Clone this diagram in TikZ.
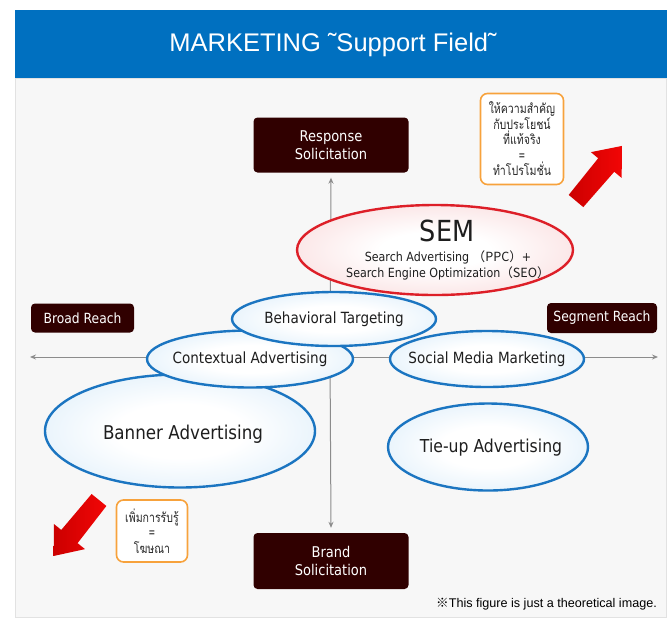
\documentclass[tikz,border=0pt]{standalone}
\usepackage{fontspec}
\setmainfont{DejaVu Sans}[FakeStretch=0.88]
\newfontfamily\headfont{Liberation Sans}
\newfontfamily\thaifont[Script=Thai,FakeStretch=0.8]{Loma}
\newfontfamily\cjkfont{Noto Sans CJK JP}
\usetikzlibrary{shapes.geometric,arrows.meta}

\definecolor{headblue}{HTML}{0070C0}
\definecolor{panelgray}{HTML}{F7F7F7}
\definecolor{panelline}{HTML}{E2E2E2}
\definecolor{boxred}{HTML}{300000}
\definecolor{axisgray}{HTML}{8C8C8C}
\definecolor{edgeblue}{HTML}{1B75C1}
\definecolor{glowblue}{HTML}{C2E0F6}
\definecolor{edgered}{HTML}{DD1F28}
\definecolor{glowpink}{HTML}{F5C0C2}
\definecolor{calloutorange}{HTML}{F7A23C}
\definecolor{arrowred}{HTML}{F20606}
\definecolor{arrowdark}{HTML}{CC0000}
\definecolor{inktext}{HTML}{1E1E1E}

\pgfdeclareradialshading{blueglow}{\pgfpoint{0bp}{0bp}}{color(0bp)=(white); color(12bp)=(white); color(50bp)=(glowblue); color(100bp)=(glowblue)}
\pgfdeclareradialshading{pinkglow}{\pgfpoint{0bp}{0bp}}{color(0bp)=(white); color(10bp)=(white); color(50bp)=(glowpink); color(100bp)=(glowpink)}

\tikzset{
  x=1pt, y=-1pt,
  darkbox/.style={fill=boxred, rounded corners=4pt, text=white, align=center,
    inner sep=0pt, font=\fontsize{14.8}{18}\selectfont},
  bluebubble/.style={ellipse, draw=edgeblue, line width=2.4pt, inner sep=0pt, shading=blueglow},
  redbubble/.style={ellipse, draw=edgered, line width=2.4pt, inner sep=0pt, shading=pinkglow},
  bubbletext/.style={font=\fontsize{15.4}{18}\selectfont, text=inktext},
  callout/.style={draw=calloutorange, line width=1.6pt, fill=white, rounded corners=7pt,
    align=center, inner sep=0pt, font=\thaifont\fontsize{13.2}{15.5}\selectfont, text=black!85},
  axis/.style={draw=axisgray, line width=1pt, -{Stealth[length=6pt,width=5pt]}},
  redarrow/.pic={
    \path[left color=arrowdark, right color=arrowred]
      (0,-9.5) -- (47,-10.5) -- (47,-20) -- (72,0) -- (47,20) -- (47,10.5) -- (0,9.5) -- cycle;
  },
}

\begin{document}
\begin{tikzpicture}
  \useasboundingbox (0,0) rectangle (668,619);
  \fill[white] (0,0) rectangle (668,619);

  % panel and header band
  \filldraw[fill=panelgray, draw=panelline, line width=1pt] (15.5,78) rectangle (666.5,617);
  \fill[headblue] (15,10) rectangle (667,78);
  \node (title) at (333,45) [text=white, font=\headfont\fontsize{25.5}{28}\selectfont]
    {MARKETING ˜Support Field˜};

  % end boxes of the two axes
  \node (resp)  at (331,145) [darkbox, minimum width=155pt, minimum height=55pt] {Response\\Solicitation};
  \node (brand) at (331,561) [darkbox, minimum width=155pt, minimum height=56pt] {Brand\\Solicitation};
  \node (broad) at (82.5,318) [darkbox, minimum width=103pt, minimum height=29pt,
    font=\fontsize{14}{16}\selectfont] {Broad Reach};
  \node (segm)  at (602,318) [darkbox, minimum width=110pt, minimum height=30pt,
    font=\fontsize{14}{16}\selectfont] {Segment Reach};

  % axes
  \coordinate (cen) at (330,357);
  \coordinate (west) at (30,357);
  \coordinate (east) at (658,357);
  \draw[axis] (cen) -- ([yshift=-5pt]resp.south);
  \draw[axis] (cen) -- ([yshift=5pt]brand.north);
  \draw[axis] (cen) -- (west);
  \draw[axis] (cen) -- (east);

  % bubbles
  \node (sem) at (435,250) [redbubble, minimum width=276pt, minimum height=90pt] {};
  \node at (447,231) [text=inktext] {\fontsize{29}{32}\selectfont SEM};
  \node at (448,265) [align=center, font=\fontsize{12.6}{16}\selectfont, text=inktext]
    {Search Advertising {\cjkfont （PPC）}+\\Search Engine Optimization{\cjkfont （SEO）}};

  \node (banner) at (180,431) [bluebubble, minimum width=270pt, minimum height=113pt] {};
  \node at (183,434) [bubbletext, font=\fontsize{19}{22}\selectfont] {Banner Advertising};

  \node (ctx) at (250,359) [bluebubble, minimum width=206pt, minimum height=57pt] {};
  \node at (ctx) [bubbletext] {Contextual Advertising};

  \node (behav) at (334,319) [bluebubble, minimum width=204pt, minimum height=54pt] {};
  \node at (behav) [bubbletext] {Behavioral Targeting};

  \node (social) at (487,359) [bluebubble, minimum width=194pt, minimum height=56pt] {};
  \node at (social) [bubbletext] {Social Media Marketing};

  \node (tieup) at (488,447) [bluebubble, minimum width=200pt, minimum height=87pt] {};
  \node at (491,448) [bubbletext, font=\fontsize{17.8}{20}\selectfont] {Tie-up Advertising};

  % callouts with their red arrows
  \node (promo) at (522,139) [callout, minimum width=83pt, minimum height=91pt]
    {ให้ความสำคัญ\\กับประโยชน์\\ที่แท้จริง\\=\\ทำโปรโมชั่น};
  \node (aware) at (152,531) [callout, minimum width=71pt, minimum height=62pt]
    {เพิ่มการรับรู้\\=\\โฆษณา};
  \pic[rotate=50] at (576,201) {redarrow};
  \pic[rotate=231] at (99,500) {redarrow};

  % footnote
  \node (note) at (657,604) [anchor=east, inner sep=0pt, font=\headfont\fontsize{12.6}{14}\selectfont]
    {{\cjkfont ※}This figure is just a theoretical image.};
\end{tikzpicture}
\end{document}
